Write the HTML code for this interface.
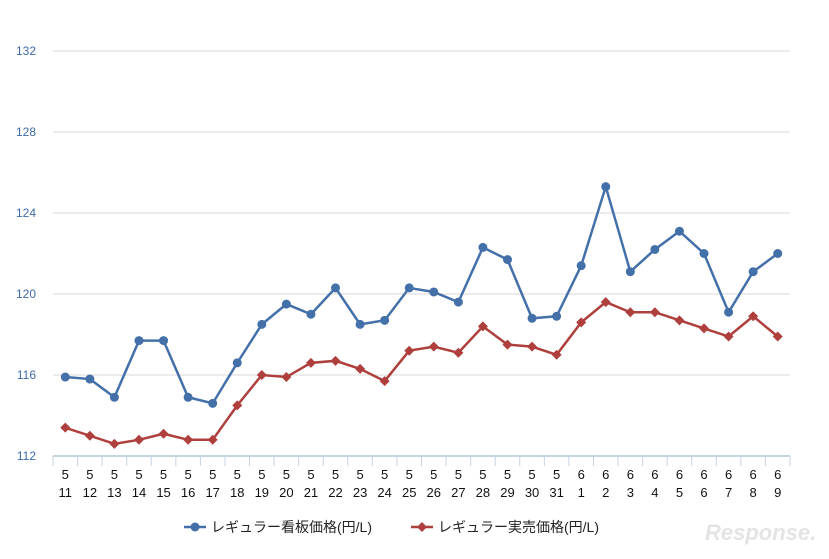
<!DOCTYPE html>
<html><head><meta charset="utf-8"><style>
body{margin:0;background:#fff;font-family:"Liberation Sans","Noto Sans CJK JP",sans-serif}
</style></head><body>
<svg id="c" width="829" height="554" xmlns="http://www.w3.org/2000/svg"></svg>
<script>
const months=[5,5,5,5,5,5,5,5,5,5,5,5,5,5,5,5,5,5,5,5,5,6,6,6,6,6,6,6,6,6];
const days=[11,12,13,14,15,16,17,18,19,20,21,22,23,24,25,26,27,28,29,30,31,1,2,3,4,5,6,7,8,9];
const signPrice=[115.9,115.8,114.9,117.7,117.7,114.9,114.6,116.6,118.5,119.5,119.0,120.3,118.5,118.7,120.3,120.1,119.6,122.3,121.7,118.8,118.9,121.4,125.3,121.1,122.2,123.1,122.0,119.1,121.1,122.0];
const actualPrice=[113.4,113.0,112.6,112.8,113.1,112.8,112.8,114.5,116.0,115.9,116.6,116.7,116.3,115.7,117.2,117.4,117.1,118.4,117.5,117.4,117.0,118.6,119.6,119.1,119.1,118.7,118.3,117.9,118.9,117.9];
const yTicks=[112,116,120,124,128,132];
const NS="http://www.w3.org/2000/svg",svg=document.getElementById('c');
const x0=53,x1=790,yTop=51,yBot=456,band=(x1-x0)/days.length;
const X=i=>x0+band*(i+0.5);
const Y=v=>yBot-(v-112)/(132-112)*(yBot-yTop);
function el(t,a,p){const e=document.createElementNS(NS,t);for(const k in a)e.setAttribute(k,a[k]);(p||svg).appendChild(e);return e;}
yTicks.forEach(v=>{
 if(v>112){const g=el('line',{x1:x0,x2:x1,y1:Y(v),y2:Y(v),stroke:'#d9d9d9','stroke-width':1});
 
 }
 const t=el('text',{x:36,y:Y(v)+4,'text-anchor':'end','font-size':12,fill:'#3d6aa8'});t.textContent=v;
 
 
});
const ax=el('line',{x1:x0,x2:x1,y1:yBot,y2:yBot,stroke:'#c5d3e3','stroke-width':2});


for(let i=0;i<=days.length;i++){const tk=el('line',{x1:x0+band*i,x2:x0+band*i,y1:yBot,y2:yBot+10,stroke:'#c5d3e3','stroke-width':1});
 
 }
days.forEach((d,i)=>{
 const t1=el('text',{x:X(i),y:479,'text-anchor':'middle','font-size':13,fill:'#111'});t1.textContent=months[i];
 
 
 const t2=el('text',{x:X(i),y:497,'text-anchor':'middle','font-size':13,fill:'#111'});t2.textContent=d;
 
 
});
function series(vals,color,marker,name){
 const pl=el('polyline',{points:vals.map((v,i)=>X(i)+','+Y(v)).join(' '),fill:'none',stroke:color,'stroke-width':2.5});
 
 
 vals.forEach((v,i)=>{let m;
  if(marker==='c')m=el('circle',{cx:X(i),cy:Y(v),r:4.5,fill:color});
  else{const x=X(i),y=Y(v);m=el('polygon',{points:`${x},${y-5} ${x+5},${y} ${x},${y+5} ${x-5},${y}`,fill:color});}
  
  
 });
}
series(signPrice,'#4470aa','c','sign-price');
series(actualPrice,'#ae3f3c','d','actual-price');
// legend
const lg=el('g',{});


el('line',{x1:184,x2:206,y1:527,y2:527,stroke:'#4470aa','stroke-width':2.5},lg);
el('circle',{cx:195,cy:527,r:4.5,fill:'#4470aa'},lg);
const l1=el('text',{x:211,y:532,'font-size':14,fill:'#222'},lg);l1.textContent='レギュラー看板価格(円/L)';


el('line',{x1:411,x2:433,y1:527,y2:527,stroke:'#ae3f3c','stroke-width':2.5},lg);
el('polygon',{points:'422,522 427,527 422,532 417,527',fill:'#ae3f3c'},lg);
const l2=el('text',{x:438,y:532,'font-size':14,fill:'#222'},lg);l2.textContent='レギュラー実売価格(円/L)';


const wm=el('text',{x:705,y:540,'font-size':22,'font-style':'italic','font-weight':'bold',fill:'#e4e4e4'});wm.textContent='Response.';


</script>
</body></html>
